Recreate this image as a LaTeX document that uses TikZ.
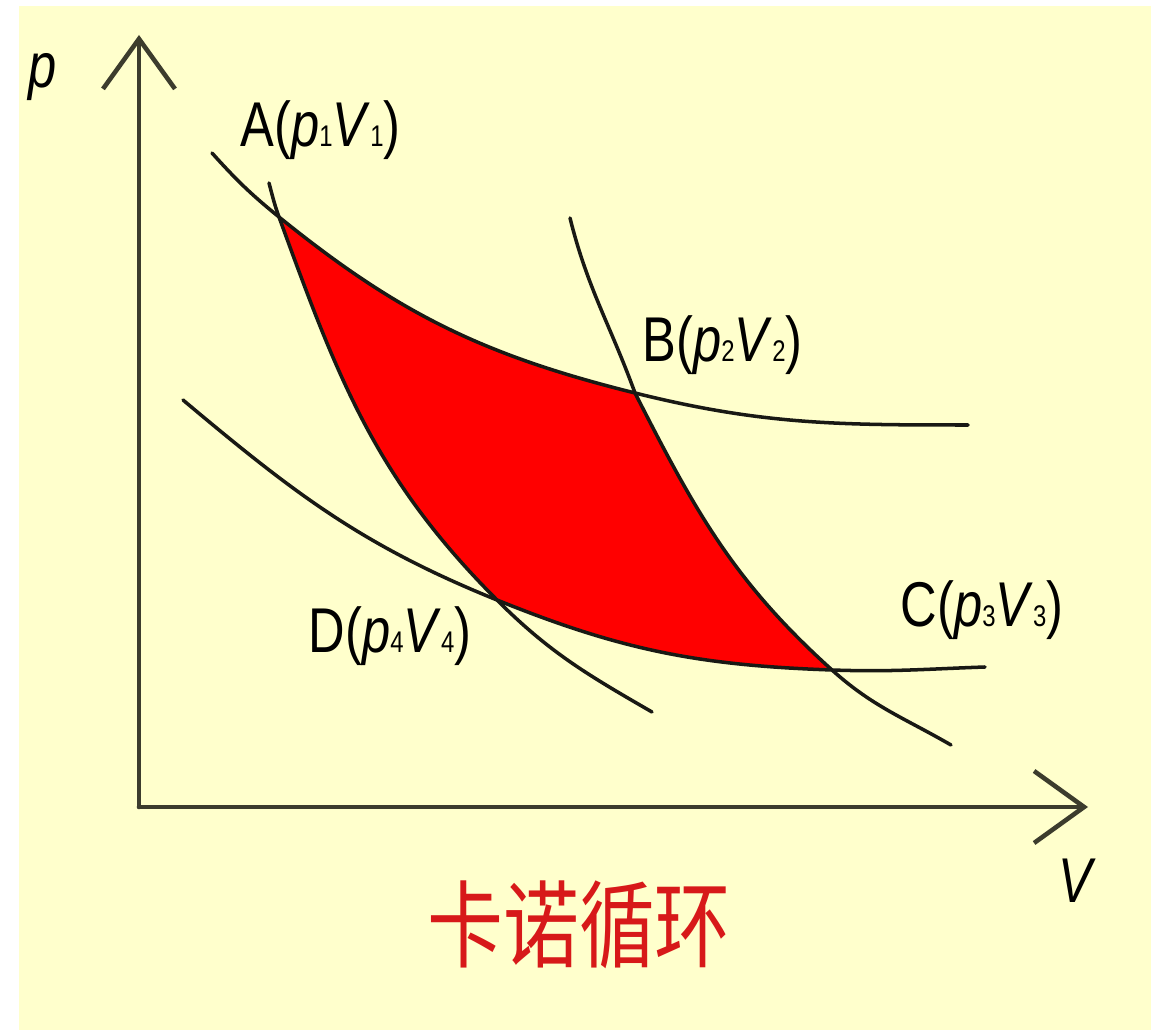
\documentclass[tikz,border=0pt]{standalone}
\usepackage{fontspec}
\setmainfont{Liberation Sans}[FakeStretch=0.8]
\newfontfamily\cjk{Noto Sans CJK SC}[FakeStretch=0.8]
\usepackage{xcolor}
\usepackage{tikz}
\usetikzlibrary{arrows.meta}

\definecolor{paper}{RGB}{255,255,204}
\definecolor{axcol}{RGB}{60,60,45}
\definecolor{cvcol}{RGB}{25,25,20}
\definecolor{cyc}{RGB}{255,0,0}
\definecolor{ttlred}{RGB}{215,25,25}
\newcommand\ix[1]{{\fontsize{8.5}{8.5}\selectfont #1}}

\begin{document}
\begin{tikzpicture}[line cap=round,
  ax/.style={draw=axcol,line width=1.3pt,->},
  cv/.style={draw=cvcol,line width=1pt},
  lb/.style={anchor=base west,inner sep=0pt,font=\fontsize{18}{18}\selectfont},
  >={Straight Barb[length=5mm,width=7.2mm]}]
\useasboundingbox (0,0) rectangle (11.54,10.30);
\fill[white] (0,0) rectangle (11.54,10.30);
\fill[paper] (0.19,0) rectangle (11.51,10.24);
% axes and cycle corners
\coordinate (O) at (1.39,2.23);
\coordinate (pt) at (1.39,9.95);
\coordinate (Vt) at (10.88,2.23);
\coordinate (A) at (2.79,8.13);
\coordinate (B) at (6.35,6.37);
\coordinate (C) at (8.32,3.60);
\coordinate (D) at (4.97,4.30);
% free curve ends
\coordinate (h1) at (2.12,8.77); \coordinate (h1e) at (9.68,6.05);
\coordinate (h2) at (1.83,6.30); \coordinate (h2e) at (9.85,3.63);
\coordinate (s1) at (2.69,8.47); \coordinate (s1e) at (6.52,3.18);
\coordinate (s2) at (5.70,8.12); \coordinate (s2e) at (9.51,2.85);
\fill[cyc] (A) to[out=-39,in=166] (B) to[out=-63,in=138] (C)
  to[out=178,in=-22] (D) to[out=135,in=-70] (A) -- cycle;
% isotherms
\draw[cv] (h1) to[out=-48,in=141] (A) to[out=-39,in=166] (B) to[out=-14,in=180] (h1e);
\draw[cv] (h2) to[out=-40,in=158] (D) to[out=-22,in=178] (C) to[out=-2,in=-178] (h2e);
% adiabats
\draw[cv] (s1) to[out=-75,in=110] (A) to[out=-70,in=135] (D) to[out=-45,in=150] (s1e);
\draw[cv] (s2) to[out=-76,in=110] (B) to[out=-63,in=138] (C) to[out=-42,in=150] (s2e);
\draw[ax] (O)--(pt);
\draw[ax] (O)--(Vt);
\node[lb] (lp) at (0.28,9.42) {\textit{p}};
\node[lb] (la) at (2.40,8.83) {A(\textit{p}\ix1\textit{V}\ix1)};
\node[lb] (lbb) at (6.42,6.68) {B(\textit{p}\ix2\textit{V}\ix2)};
\node[lb] (lc) at (9.00,4.03) {C(\textit{p}\ix3\textit{V}\ix3)};
\node[lb] (ld) at (3.08,3.77) {D(\textit{p}\ix4\textit{V}\ix4)};
\node[lb] (lv) at (10.58,1.27) {\textit{V}};
\node[font=\cjk\fontsize{27}{27}\selectfont,text=ttlred] (ttl) at (5.79,1.05) {卡诺循环};
\end{tikzpicture}
\end{document}
